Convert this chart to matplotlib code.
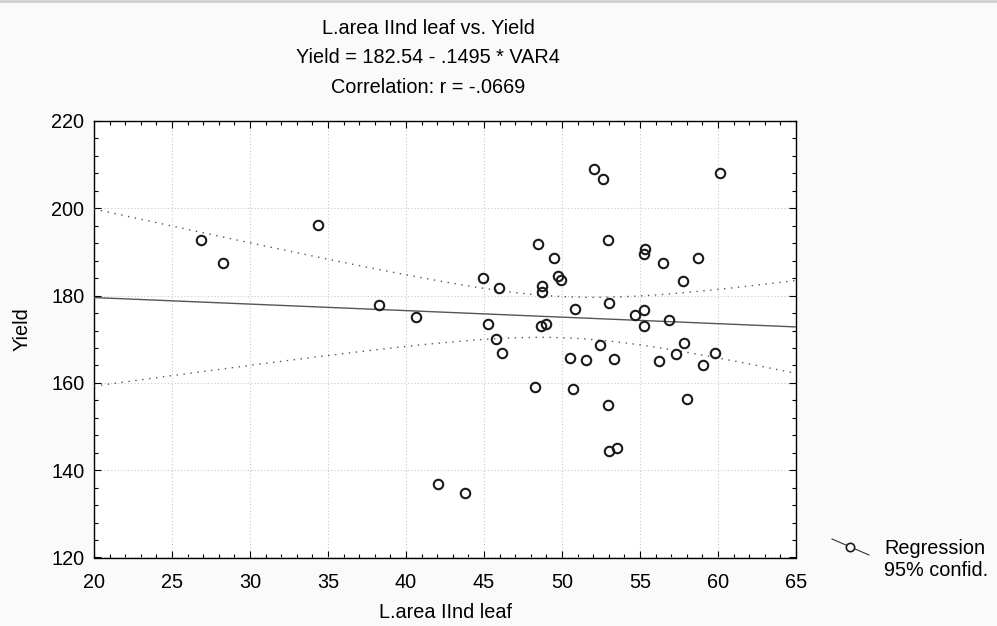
import numpy as np
import matplotlib
matplotlib.use("Agg")
import matplotlib.pyplot as plt
from matplotlib.lines import Line2D
from matplotlib.ticker import MultipleLocator

plt.rcParams['font.family'] = ['Liberation Sans', 'DejaVu Sans']

# ---- data ----
leaf_area = [26.88, 28.27, 34.36, 38.27, 40.66, 42.05, 43.76, 44.94, 45.26, 45.75,
             45.96, 46.13, 48.25, 48.44, 48.65, 48.74, 48.74, 48.97, 49.47, 49.74,
             49.94, 50.50, 50.72, 50.83, 51.54, 52.05, 52.44, 52.63, 52.95, 52.95,
             53.03, 53.03, 53.33, 53.54, 54.66, 55.26, 55.26, 55.26, 55.34, 56.24,
             56.45, 56.84, 57.33, 57.74, 57.82, 58.03, 58.74, 59.06, 59.83, 60.15]
yield_vals = [192.75, 187.5, 196.1, 177.8, 175.2, 136.9, 134.8, 184.1, 173.6, 170.0,
              181.65, 166.8, 158.95, 191.9, 173.1, 182.1, 180.8, 173.6, 188.7, 184.5,
              183.6, 165.75, 158.6, 177.0, 165.2, 208.9, 168.6, 206.7, 192.75, 154.9,
              178.2, 144.3, 165.5, 145.0, 175.5, 176.6, 173.0, 189.5, 190.7, 165.0,
              187.5, 174.4, 166.6, 183.4, 169.1, 156.35, 188.7, 164.15, 166.75, 208.0]
intercept = 182.54
slope = -0.1495
t_crit = 2.0106  # t(0.975, df=48)

title_lines = ["L.area IInd leaf vs. Yield",
               "Yield = 182.54 - .1495 * VAR4",
               "Correlation: r = -.0669"]
x_label = "L.area IInd leaf"
y_label = "Yield"
legend_labels = ["Regression", "95% confid."]

W, H = 997, 626
fig = plt.figure(figsize=(W / 100, H / 100), dpi=100, facecolor='#fafafa')

def fx(px):
    return px / W

def fy(py):
    return 1 - py / H

ax = fig.add_axes([fx(94), fy(557.5), fx(796) - fx(94), fy(121) - fy(557.5)])
ax.set_facecolor('white')

x = np.array(leaf_area)
y = np.array(yield_vals)
n = len(x)
resid = y - (intercept + slope * x)
s = np.sqrt(np.sum(resid ** 2) / (n - 2))
xm = x.mean()
sxx = np.sum((x - xm) ** 2)
xs = np.linspace(20, 65, 300)
yhat = intercept + slope * xs
half = t_crit * s * np.sqrt(1 / n + (xs - xm) ** 2 / sxx)

ax.plot(xs, yhat, color='#555555', lw=1.0, zorder=3)
ax.plot(xs, yhat + half, color='#555555', lw=1.0, ls=(0, (1, 4)), zorder=3)
ax.plot(xs, yhat - half, color='#555555', lw=1.0, ls=(0, (1, 4)), zorder=3)
ax.plot(x, y, ls='none', marker='o', ms=6.8, mfc='none', mec='#1a1a1a', mew=1.5, zorder=4)

ax.set_xlim(20, 65)
ax.set_ylim(120, 220)
ax.xaxis.set_major_locator(MultipleLocator(5))
ax.xaxis.set_minor_locator(MultipleLocator(1))
ax.yaxis.set_major_locator(MultipleLocator(20))
ax.yaxis.set_minor_locator(MultipleLocator(4))
ax.tick_params(which='both', direction='in', top=True, right=True, color='black')
ax.tick_params(which='major', length=5, width=0.8, labelsize=14.3, pad=7)
ax.tick_params(which='minor', length=3, width=0.8)
ax.tick_params(axis='x', which='major', pad=11)
ax.grid(True, which='major', color='#c8c8c8', ls=(0, (1, 2)), lw=0.8)
for sp in ax.spines.values():
    sp.set_color('black')
    sp.set_linewidth(1.0)

for i, t in enumerate(title_lines):
    fig.text(fx(428), fy([28, 57.5, 87.5][i]), t, ha='center', va='center', fontsize=14.3)
fig.text(fx(445), fy(613), x_label, ha='center', va='center', fontsize=14.3)
fig.text(fx(22), fy(329), y_label, ha='center', va='center', fontsize=14.3, rotation=90)

# legend
fig.add_artist(Line2D([fx(832), fx(869)], [fy(539), fy(555)], color='#333333', lw=0.8))
fig.add_artist(Line2D([fx(850)], [fy(547)], marker='o', ms=6, mfc='white', mec='#1a1a1a', mew=1.2))
fig.text(fx(884), fy(548), legend_labels[0], ha='left', va='center', fontsize=14.3)
fig.text(fx(884), fy(571), legend_labels[1], ha='left', va='center', fontsize=14.3)

# top border line
fig.add_artist(Line2D([0, 1], [fy(1), fy(1)], color='#d0d0d0', lw=2))

fig.savefig('out.png', dpi=100, facecolor=fig.get_facecolor())
